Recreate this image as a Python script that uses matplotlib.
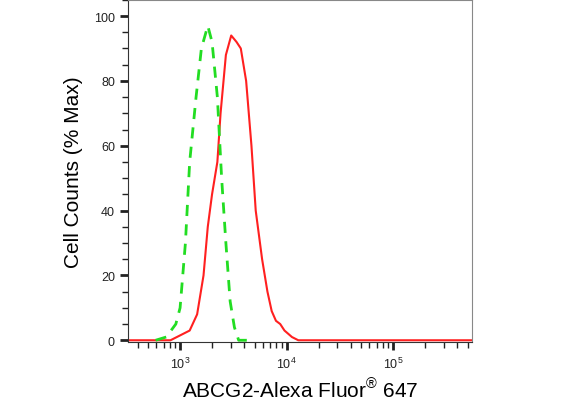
import numpy as np
import matplotlib
matplotlib.use("Agg")
import matplotlib.pyplot as plt
from matplotlib.ticker import LogLocator, MultipleLocator, NullFormatter

plt.rcParams['font.family'] = ['Liberation Sans', 'DejaVu Sans']

# pixel-read log10 positions and % values
green_log = [2.77, 2.87, 2.96, 3.0, 3.05, 3.09, 3.15, 3.2, 3.26, 3.3, 3.35, 3.39, 3.43, 3.47, 3.51, 3.55, 3.7]
green_val = [0, 1, 5, 10, 30, 55, 75, 90, 97, 92, 75, 50, 30, 12, 4, 0, 0]
red_log = [2.5, 2.91, 3.09, 3.16, 3.22, 3.26, 3.3, 3.35, 3.38, 3.43, 3.48, 3.53, 3.57, 3.62, 3.67, 3.71, 3.77, 3.82, 3.86, 3.9, 3.94, 3.98, 4.05, 4.11, 5.75]
red_val = [0, 0, 3, 8, 20, 35, 45, 55, 70, 88, 94, 92, 90, 80, 60, 40, 25, 15, 9, 6, 5, 3, 1, 0, 0]

fig = plt.figure(figsize=(5.77, 4.14), dpi=100)
ax = fig.add_axes([0.222, 0.171, 0.596, 0.827])
ax.plot(10 ** np.array(red_log), red_val, color='#ff2020', lw=1.5)
ax.plot(10 ** np.array(green_log), green_val, color='#22dd22', lw=2, ls=(0, (4, 3)))
ax.set_xscale('log')
ax.set_xlim(325, 5.5e5)
ax.set_ylim(-0.6, 105)
ax.set_yticks([0, 20, 40, 60, 80, 100])
ax.yaxis.set_minor_locator(MultipleLocator(5))
ax.xaxis.set_major_locator(LogLocator(base=10, numticks=10))
ax.xaxis.set_minor_locator(LogLocator(base=10, subs=np.arange(2, 10), numticks=20))
ax.xaxis.set_minor_formatter(NullFormatter())
for s in ax.spines.values():
    s.set_color('#888888')
ax.spines['left'].set_color('#333333')
ax.spines['bottom'].set_color('#333333')
ax.tick_params(which='major', length=6, width=2, labelsize=9, colors='#222222')
ax.tick_params(which='minor', length=4, width=1, colors='#222222')
ax.set_xlabel(r'ABCG2-Alexa Fluor$^{\mathregular{®}}$ 647', fontsize=15, labelpad=4)
ax.set_ylabel('Cell Counts (% Max)', fontsize=15, labelpad=8)
fig.savefig('out.png', dpi=100)
